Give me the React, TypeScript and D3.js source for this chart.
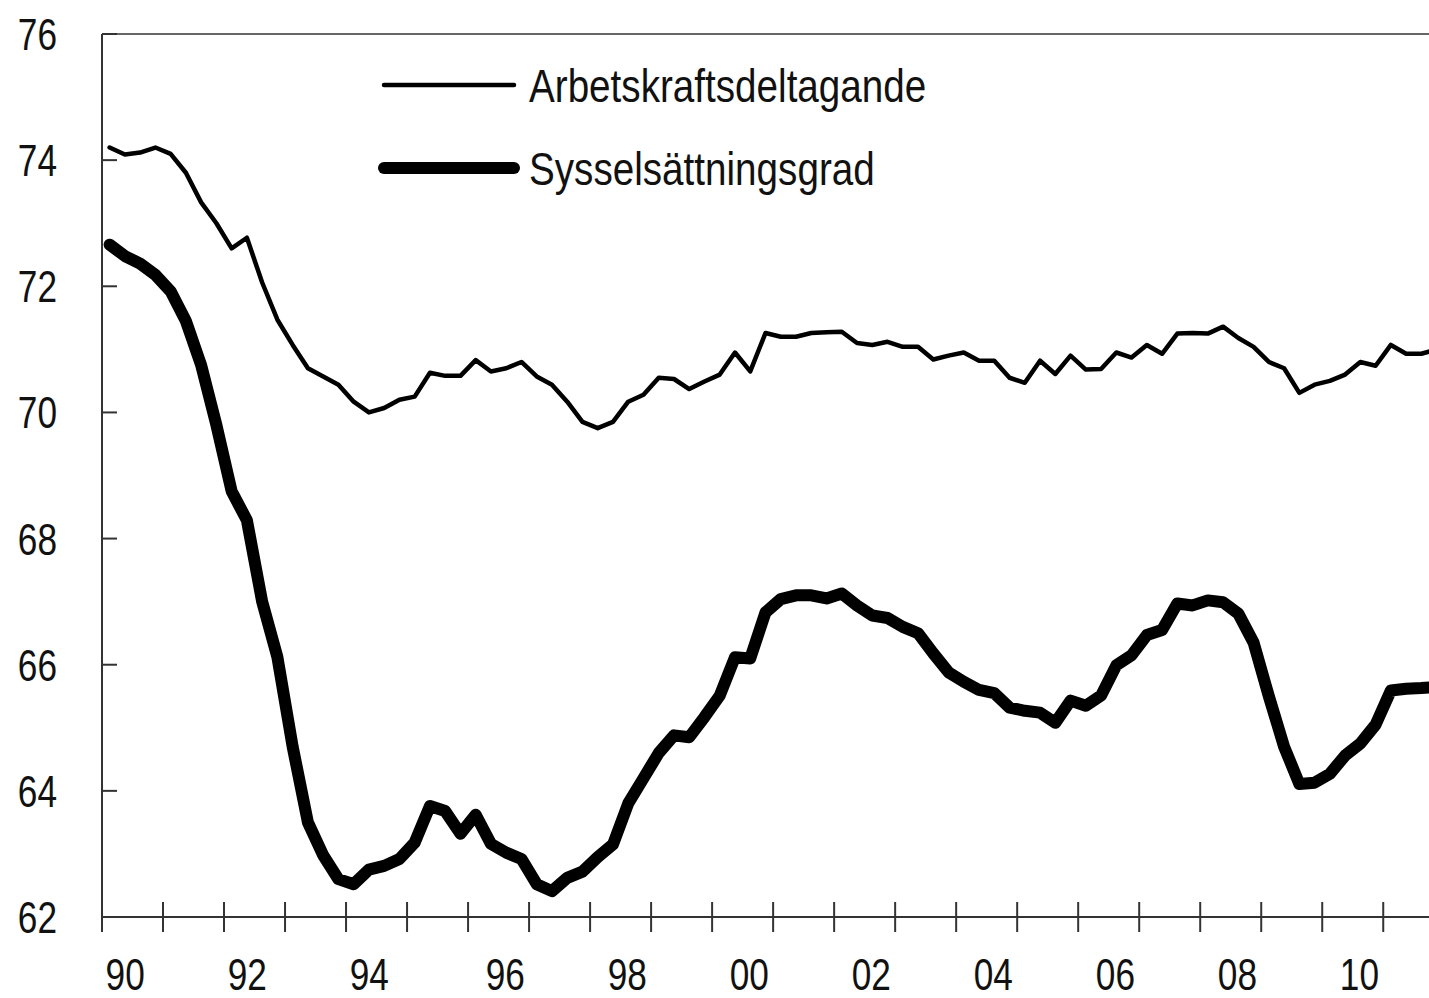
import React, { useEffect, useRef } from "react";
import * as d3 from "d3";

// quarterly data, 1990Q1 .. 2011Q4 (percent)
const startYear = 1990;
const quarters = 88;

const arbetskraft = [
  74.2, 74.09, 74.12, 74.2,
  74.1, 73.8, 73.33, 73.0,
  72.6, 72.77, 72.06, 71.47,
  71.07, 70.7, 70.57, 70.44,
  70.17, 70.0, 70.07, 70.2,
  70.25, 70.63, 70.58, 70.58,
  70.83, 70.65, 70.7, 70.8,
  70.57, 70.44, 70.17, 69.85,
  69.75, 69.85, 70.17, 70.28,
  70.55, 70.53, 70.37, 70.49,
  70.6, 70.95, 70.65, 71.26,
  71.2, 71.2, 71.26, 71.27,
  71.28, 71.1, 71.07, 71.12,
  71.04, 71.04, 70.84, 70.9,
  70.95, 70.82, 70.82, 70.55,
  70.47, 70.82, 70.61, 70.9,
  70.68, 70.69, 70.95, 70.87,
  71.07, 70.93, 71.25, 71.26,
  71.25, 71.36, 71.18, 71.04,
  70.8, 70.7, 70.31, 70.44,
  70.5, 70.6, 70.8, 70.74,
  71.07, 70.93, 70.93, 71.0,
];

const syssel = [
  72.66, 72.48, 72.36, 72.18,
  71.92, 71.45, 70.75, 69.8,
  68.75, 68.29, 67.0, 66.12,
  64.7, 63.5, 62.98, 62.6,
  62.52, 62.75, 62.81, 62.92,
  63.18, 63.76, 63.68, 63.32,
  63.62, 63.16, 63.02, 62.92,
  62.52, 62.41, 62.62, 62.72,
  62.95, 63.15, 63.8, 64.2,
  64.6, 64.88, 64.85, 65.17,
  65.51, 66.12, 66.1, 66.83,
  67.04, 67.1, 67.1, 67.05,
  67.13, 66.94, 66.78, 66.74,
  66.6, 66.5, 66.18, 65.88,
  65.73, 65.6, 65.55, 65.32,
  65.27, 65.24, 65.08, 65.43,
  65.35, 65.51, 65.99, 66.15,
  66.47, 66.55, 66.97, 66.94,
  67.02, 66.99, 66.81, 66.35,
  65.5, 64.7, 64.11, 64.13,
  64.27, 64.56, 64.75, 65.05,
  65.59, 65.62, 65.63, 65.65,
];

const yTicks = [62, 64, 66, 68, 70, 72, 74, 76];
const xTickYears = d3.range(1990, 2012);
const xLabelYears = [1990, 1992, 1994, 1996, 1998, 2000, 2002, 2004, 2006, 2008, 2010];

const seriesNames = ["Arbetskraftsdeltagande", "Sysselsättningsgrad"];

const App = () => {
  const ref = useRef<SVGSVGElement>(null);

  useEffect(() => {
    const svg = d3.select(ref.current);
    svg.selectAll("*").remove();

    const width = 1429;
    const left = 102;
    const top = 34;
    const bottom = 917;
    const font = "'Liberation Sans Narrow', 'Liberation Sans', Arial, sans-serif";
    const squeeze = 0.8; // condensed look

    const x = d3.scaleLinear().domain([1990, 2011.75]).range([left, width]);
    const y = d3.scaleLinear().domain([62, 76]).range([bottom, top]);

    // quarter midpoint
    const t = (i: number) => startYear + i / 4 + 0.125;

    // frame: top line
    svg.append("line")
      .attr("x1", left).attr("x2", width)
      .attr("y1", top).attr("y2", top)
      .attr("stroke", "#666").attr("stroke-width", 2);

    // y axis
    svg.append("line")
      .attr("x1", left).attr("x2", left)
      .attr("y1", top).attr("y2", bottom)
      .attr("stroke", "#333").attr("stroke-width", 2);

    svg.append("g").selectAll("line")
      .data(yTicks)
      .enter().append("line")
      .attr("x1", left).attr("x2", left + 15)
      .attr("y1", (d) => y(d)).attr("y2", (d) => y(d))
      .attr("stroke", "#333").attr("stroke-width", 2);

    svg.append("g").selectAll("text")
      .data(yTicks)
      .enter().append("text")
      .attr("transform", (d) => `translate(57,${y(d) + 16}) scale(${squeeze},1)`)
      .attr("text-anchor", "end")
      .style("font-family", font)
      .style("font-size", "44px")
      .attr("fill", "#111")
      .text((d) => d);

    // x axis
    svg.append("line")
      .attr("x1", left).attr("x2", width)
      .attr("y1", bottom).attr("y2", bottom)
      .attr("stroke", "#333").attr("stroke-width", 2);

    svg.append("g").selectAll("line")
      .data(xTickYears)
      .enter().append("line")
      .attr("x1", (d) => x(d)).attr("x2", (d) => x(d))
      .attr("y1", bottom - 15).attr("y2", bottom + 15)
      .attr("stroke", "#333").attr("stroke-width", 2);

    svg.append("g").selectAll("text")
      .data(xLabelYears)
      .enter().append("text")
      .attr("transform", (d) =>
        `translate(${x(d + (d < 1995 ? 0.38 : 0.61))},990) scale(${squeeze},1)`)
      .attr("text-anchor", "middle")
      .style("font-family", font)
      .style("font-size", "44px")
      .attr("fill", "#111")
      .text((d) => String(d % 100).padStart(2, "0"));

    // lines
    const line = d3.line<number>()
      .x((d, i) => x(t(i)))
      .y((d) => y(d));

    svg.append("path")
      .datum(arbetskraft.slice(0, quarters))
      .attr("d", line)
      .attr("fill", "none")
      .attr("stroke", "#000")
      .attr("stroke-width", 4.5)
      .attr("stroke-linejoin", "round")
      .attr("stroke-linecap", "round");

    svg.append("path")
      .datum(syssel.slice(0, quarters))
      .attr("d", line)
      .attr("fill", "none")
      .attr("stroke", "#000")
      .attr("stroke-width", 12)
      .attr("stroke-linejoin", "round")
      .attr("stroke-linecap", "round");

    // legend
    const legend = svg.append("g");
    const widths = [4.5, 12];
    const rows = [85, 168];
    seriesNames.forEach((name, i) => {
      legend.append("line")
        .attr("x1", 384).attr("x2", 514)
        .attr("y1", rows[i]).attr("y2", rows[i])
        .attr("stroke", "#000")
        .attr("stroke-width", widths[i])
        .attr("stroke-linecap", "round");
      legend.append("text")
        .attr("transform", `translate(529,${rows[i] + 17}) scale(0.84,1)`)
        .style("font-family", font)
        .style("font-size", "46px")
        .attr("fill", "#111")
        .text(name);
    });
  }, []);

  return (
    <svg
      ref={ref}
      width={1429}
      height={998}
      style={{ position: "absolute", left: 0, top: 0, background: "#fff" }}
    ></svg>
  );
};

export default App;
